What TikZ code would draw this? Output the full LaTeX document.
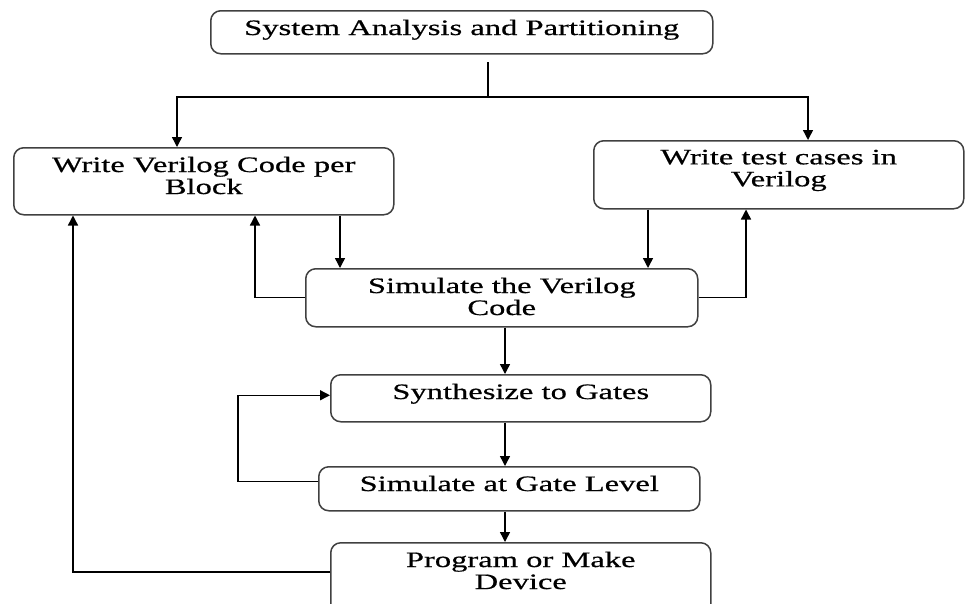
\documentclass[tikz,border=0pt]{standalone}
\usepackage{fontspec}
\setmainfont[FakeStretch=1.48,FakeBold=0.6]{Liberation Serif}
\usetikzlibrary{arrows.meta}
\newcommand{\blocktext}[3]{\parbox[t][#2][t]{#1}{\centering\vspace*{9pt}#3}}

\begin{document}
\begin{tikzpicture}[x=1pt,y=-1pt,
    block/.style={draw=black!75, line width=1.5pt, rounded corners=10pt,
      inner sep=0pt, anchor=north west, font=\fontsize{22}{22}\selectfont},
    arr/.style={line width=1.4pt, -{Triangle[length=10pt,width=10pt]}}]
    \clip (0,0) rectangle (965,603);

    % blocks
    \node[block] (sap) at (210,10) {\blocktext{502pt}{43pt}{System Analysis and Partitioning}};
    \node[block] (wvc) at (13,147) {\blocktext{380pt}{67pt}{Write Verilog Code per\\ Block}};
    \node[block] (wtc) at (593,140) {\blocktext{370pt}{68pt}{Write test cases in\\ Verilog}};
    \node[block] (svc) at (305,268) {\blocktext{392pt}{58pt}{Simulate the Verilog\\ Code}};
    \node[block] (syn) at (330,374) {\blocktext{380pt}{47pt}{Synthesize to Gates}};
    \node[block] (sgl) at (318,466) {\blocktext{381pt}{44pt}{Simulate at Gate Level}};
    \node[block] (pmd) at (330,542) {\blocktext{380pt}{72pt}{Program or Make\\ Device}};

    \coordinate (stem) at (488,62);
    \coordinate (split) at (488,97);
    \coordinate (loop) at (238,440);

    % connectors
    \draw[line width=1.4pt] (stem) -- (split);
    \draw[arr] (split) -| (wvc.north -| 177,0);
    \draw[arr] (split) -| (wtc.north -| 808,0);
    \draw[arr] (wvc.south -| 340,0) -- (svc.north -| 340,0);
    \draw[arr] (svc.west) -| (wvc.south -| 255,0);
    \draw[arr] (wtc.south -| 648,0) -- (svc.north -| 648,0);
    \draw[arr] (svc.east) -| (wtc.south -| 746,0);
    \draw[arr] (svc.south -| 505,0) -- (syn.north -| 505,0);
    \draw[arr] (syn.south -| 505,0) -- (sgl.north -| 505,0);
    \draw[arr] (sgl.south -| 505,0) -- (pmd.north -| 505,0);
    \draw[arr] ([yshift=7pt]sgl.west) -| (loop) |- ([yshift=3pt]syn.west);
    \draw[arr] (pmd.west |- 0,572) -| (wvc.south -| 73,0);
\end{tikzpicture}
\end{document}
